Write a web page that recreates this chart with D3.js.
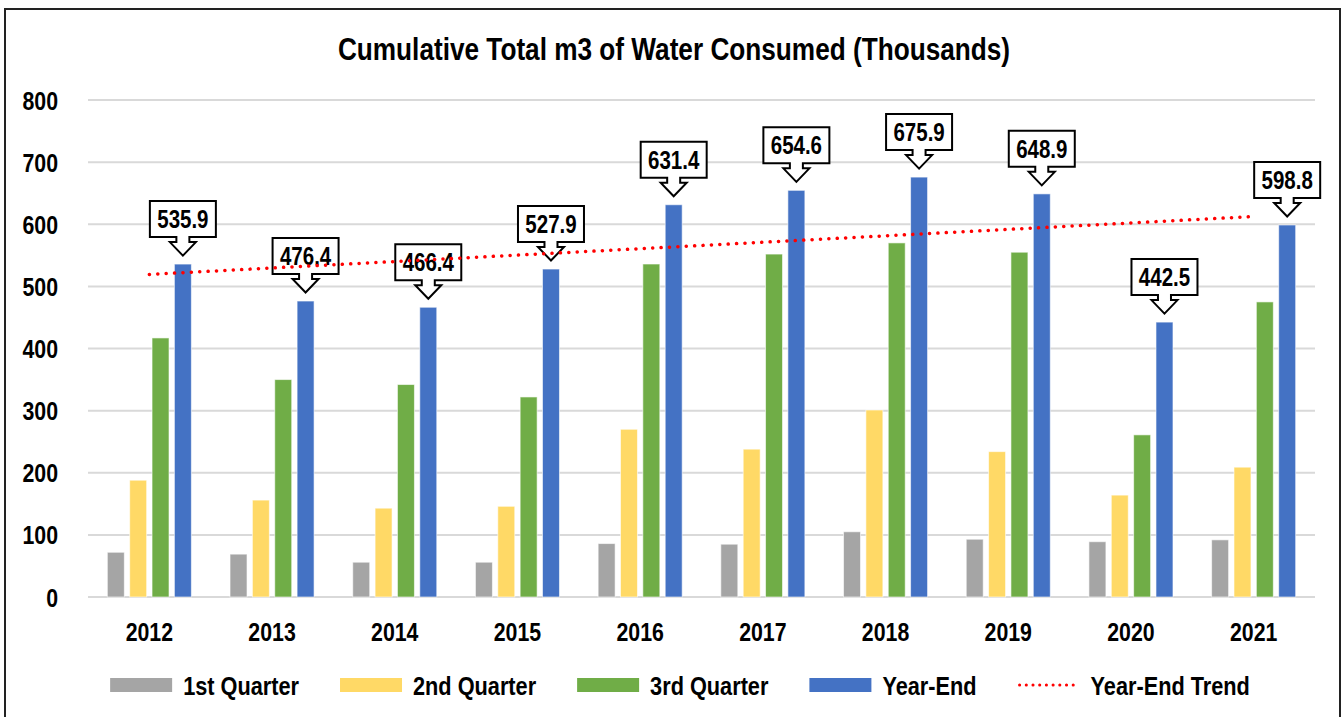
<!DOCTYPE html>
<html>
<head>
<meta charset="utf-8">
<script src="https://cdn.jsdelivr.net/npm/d3@7"></script>
<style>
  body { margin: 0; background: #fff; }
  svg text { font-family: "Liberation Sans", Arial, sans-serif; font-weight: bold; fill: #000; }
</style>
</head>
<body>
<div id="chart"></div>
<script>
// data
var years = ['2012', '2013', '2014', '2015', '2016', '2017', '2018', '2019', '2020', '2021'];
var q1 = [72, 69, 56, 56, 86, 85, 105, 93, 89, 92];
var q2 = [188, 156, 143, 146, 270, 238, 301, 234, 164, 209];
var q3 = [417, 350, 342, 322, 536, 552, 570, 555, 261, 475];
var yearEnd = [535.9, 476.4, 466.4, 527.9, 631.4, 654.6, 675.9, 648.9, 442.5, 598.8];
var seriesNames = ['1st Quarter', '2nd Quarter', '3rd Quarter', 'Year-End'];
var yTicks = [0, 100, 200, 300, 400, 500, 600, 700, 800];

var colors = ['#A5A5A5', '#FFD966', '#70AD47', '#4472C4'];
var allSeries = [q1, q2, q3, yearEnd];

var width = 1344, height = 717;
var plot = { left: 88, right: 1315, top: 100, bottom: 597 };
var narrow = 0.82;   // squeeze to look like a narrow face

var svg = d3.select('#chart').append('svg')
    .attr('width', width)
    .attr('height', height);

// text helper: placed at x,y and squeezed horizontally
function label(sel, x, y, size, sx) {
    return sel.append('text')
        .attr('transform', 'translate(' + x + ',' + y + ') scale(' + sx + ',1)')
        .attr('font-size', size);
}

// outer frame
svg.append('rect')
    .attr('x', 5).attr('y', 9)
    .attr('width', 1335).attr('height', 730)
    .attr('fill', '#fff')
    .attr('stroke', '#222')
    .attr('stroke-width', 2);

label(svg, 674, 60, 31, 0.845)
    .attr('text-anchor', 'middle')
    .text('Cumulative Total m3 of Water Consumed (Thousands)');

var y = d3.scaleLinear().domain([0, 800]).range([plot.bottom, plot.top]);

var x0 = d3.scaleBand().domain(years)
    .range([plot.left, plot.right])
    .paddingInner(0.315)
    .paddingOuter(0.1575);

var x1 = d3.scaleBand().domain(seriesNames)
    .range([0, x0.bandwidth()])
    .paddingInner(0.24);

// gridlines
svg.append('g').selectAll('line')
    .data(yTicks)
    .enter().append('line')
    .attr('x1', plot.left).attr('x2', plot.right)
    .attr('y1', function(d) { return y(d); })
    .attr('y2', function(d) { return y(d); })
    .attr('stroke', '#D9D9D9')
    .attr('stroke-width', 2);

// y labels
var yl = svg.append('g');
yTicks.forEach(function(d) {
    label(yl, 58, y(d) + 9.5, 26, narrow).attr('text-anchor', 'end').text(d);
});

// x labels
var xl = svg.append('g');
years.forEach(function(d) {
    label(xl, x0(d) + x0.bandwidth() / 2, 641, 26, narrow).attr('text-anchor', 'middle').text(d);
});

// bars
var groups = svg.append('g').selectAll('g')
    .data(years)
    .enter().append('g')
    .attr('transform', function(d) { return 'translate(' + x0(d) + ',0)'; });

groups.selectAll('rect')
    .data(function(d, i) {
        return seriesNames.map(function(s, k) { return { s: s, k: k, v: allSeries[k][i] }; });
    })
    .enter().append('rect')
    .attr('x', function(d) { return x1(d.s); })
    .attr('y', function(d) { return y(d.v); })
    .attr('width', x1.bandwidth())
    .attr('height', function(d) { return y(0) - y(d.v); })
    .attr('fill', function(d) { return colors[d.k]; })
    .attr('stroke', 'rgba(255,255,255,0.6)')
    .attr('stroke-width', 1);

// callouts on the year-end bars
var callouts = svg.append('g').selectAll('g')
    .data(years)
    .enter().append('g')
    .attr('transform', function(d, i) {
        return 'translate(' + (x0(d) + x1('Year-End') + x1.bandwidth() / 2) + ',' + y(yearEnd[i]) + ')';
    });

callouts.append('path')
    .attr('d', 'M-33,-63 L33,-63 L33,-27 L6.5,-27 L6.5,-22 L13,-22 L0,-8.5 L-13,-22 L-6.5,-22 L-6.5,-27 L-33,-27 Z')
    .attr('fill', '#fff')
    .attr('stroke', '#000')
    .attr('stroke-width', 2)
    .attr('stroke-linejoin', 'miter');

callouts.each(function(d, i) {
    label(d3.select(this), 0, -36, 25, narrow).attr('text-anchor', 'middle').text(yearEnd[i].toFixed(1));
});

// linear trend of year-end values
var n = yearEnd.length;
var xm = (n + 1) / 2, ym = d3.mean(yearEnd);
var sxy = d3.sum(yearEnd, function(v, i) { return (i + 1 - xm) * (v - ym); });
var sxx = d3.sum(yearEnd, function(v, i) { return (i + 1 - xm) * (i + 1 - xm); });
var slope = sxy / sxx, icpt = ym - slope * xm;
var trend = years.map(function(d, i) { return { x: x0(d) + x0.bandwidth() / 2, v: icpt + slope * (i + 1) }; });

svg.append('path')
    .datum([trend[0], trend[n - 1]])
    .attr('d', d3.line().x(function(d) { return d.x; }).y(function(d) { return y(d.v); }))
    .attr('fill', 'none')
    .attr('stroke', '#FF0000')
    .attr('stroke-width', 3.5)
    .attr('stroke-linecap', 'round')
    .attr('stroke-dasharray', '0.1,8.3');

// legend
var legendItems = seriesNames.concat(['Year-End Trend']);
var legend = svg.append('g');
var lx = 0;
var gap = 41;
legendItems.forEach(function(d, i) {
    var g = legend.append('g').attr('transform', 'translate(' + lx + ',0)');
    if (i < 4) {
        g.append('rect').attr('x', 0).attr('y', -7).attr('width', 62).attr('height', 14).attr('fill', colors[i]);
    } else {
        g.append('line').attr('x1', 2).attr('x2', 62).attr('y1', 0).attr('y2', 0)
            .attr('stroke', '#FF0000').attr('stroke-width', 3)
            .attr('stroke-linecap', 'round').attr('stroke-dasharray', '0.1,6.6');
    }
    var t = label(g, 73, 9.5, 26.5, narrow).text(d);
    lx += 73 + t.node().getComputedTextLength() * narrow + gap;
});
lx -= gap;
legend.attr('transform', 'translate(' + (680 - lx / 2) + ',685)');
</script>
</body>
</html>
